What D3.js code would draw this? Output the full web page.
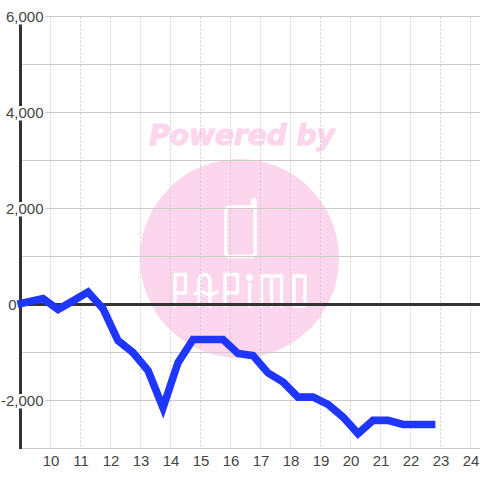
<!DOCTYPE html>
<html><head><meta charset="utf-8">
<script src="https://cdn.jsdelivr.net/npm/d3@7"></script>
<style>html,body{margin:0;padding:0;background:#fff}svg{display:block}</style>
</head><body><svg id="c" width="480" height="480"></svg>
<script>
const xTicks = [10,11,12,13,14,15,16,17,18,19,20,21,22,23,24];
const yTicks = [-3000,-2000,-1000,0,1000,2000,3000,4000,5000,6000];
const yLabelled = [-2000,0,2000,4000,6000];
const hours = [8.9,9.75,10.25,10.75,11.25,11.75,12.25,12.75,13.25,13.75,14.25,14.75,15.25,15.75,16.25,16.75,17.25,17.75,18.25,18.75,19.25,19.75,20.25,20.75,21.25,21.75,22.25,22.83];
const values = [5,125,-105,75,260,-85,-750,-1000,-1375,-2150,-1210,-730,-730,-730,-1020,-1065,-1425,-1615,-1930,-1930,-2080,-2345,-2690,-2415,-2415,-2500,-2500,-2500];

const svg = d3.select('#c');
const x = d3.scaleLinear().domain([9,24]).range([20.5,470.5]);
const y = d3.scaleLinear().domain([6000,-3000]).range([16.5,448.5]);
const F = '"Liberation Sans",Arial,sans-serif';

// watermark
const wm = svg.append('g');
wm.append('circle').attr('cx',239.5).attr('cy',258.5).attr('r',99.5).attr('fill','#fcd6ec');
wm.append('text').attr('x',242).attr('y',145).attr('text-anchor','middle')
  .attr('font-family','"DejaVu Sans"').attr('font-weight','bold').attr('font-style','italic')
  .attr('font-size',28).attr('fill','#fcd6ec').attr('stroke','#fcd6ec').attr('stroke-width',1.1).text('Powered by');
const logo = wm.append('g').attr('fill','none').attr('stroke','#fff').attr('stroke-width',3.4).attr('stroke-linecap','round').attr('stroke-linejoin','round');
logo.append('path').attr('d','M252.500 207V202Q252.500 199.700 254 199.700Q255.200 199.700 255.200 202V252Q255.200 256.500 251 256.500H230Q225.800 256.500 225.800 252V211Q225.800 207 230 207H252.500');
logo.append('path').attr('d','M175 306V274.500H185.500V293H175M199 306V284Q199 274.500 204.500 274.500Q210 274.500 210 284V306M195 294Q200 290 204.500 293Q210 296 217 292M225 306V274.500H237.500V293H225M249.500 306V284M261.500 306V276H281.500V306M271.500 277V306M294 306H305V276H294V306');
logo.append('circle').attr('cx',249.500).attr('cy',277.500).attr('r',3.6).attr('fill','#fff').attr('stroke','none');

// grid
svg.append('g').selectAll('line').data(yTicks).join('line')
  .attr('x1',20).attr('x2',480).attr('y1',d=>y(d)).attr('y2',d=>y(d))
  .attr('stroke','#cccccc').attr('stroke-width',1);
svg.append('g').selectAll('line').data(xTicks).join('line')
  .attr('x1',d=>x(d)).attr('x2',d=>x(d)).attr('y1',y(6000)).attr('y2',y(-3000))
  .attr('stroke','#cccccc').attr('stroke-width',1).attr('stroke-dasharray','2,2');

// axes
svg.append('line').attr('x1',20.5).attr('x2',20.5).attr('y1',16).attr('y2',449).attr('stroke','#333').attr('stroke-width',3);
svg.append('line').attr('x1',20).attr('x2',480).attr('y1',y(0)).attr('y2',y(0)).attr('stroke','#333').attr('stroke-width',3);

// series
const line = d3.line().x((d,i)=>x(hours[i])).y(d=>y(d));
svg.append('path').datum(values).attr('d',line).attr('fill','none')
  .attr('stroke','#1f36ff').attr('stroke-width',7.6).attr('stroke-linejoin','miter').attr('stroke-linecap','butt');

// labels
const yl = svg.append('g').selectAll('g').data(yLabelled).join('g');
yl.filter(d=>d!==0).append('rect').attr('x',2).attr('y',d=>y(d)-6.5).attr('width',43).attr('height',14.5).attr('fill','#fff');
yl.append('text').attr('x',d=>d===0?16.500:43.500).attr('y',d=>y(d)+5.500).attr('text-anchor','end')
  .attr('font-family',F).attr('font-size',15).attr('fill','#444').text(d=>d3.format(',')(d).replace('\u2212','-'));
svg.append('g').selectAll('text').data(xTicks).join('text')
  .attr('x',d=>x(d)+0.5).attr('y',466).attr('text-anchor','middle')
  .attr('font-family',F).attr('font-size',15).attr('fill','#444').text(d=>d);
</script></body></html>
